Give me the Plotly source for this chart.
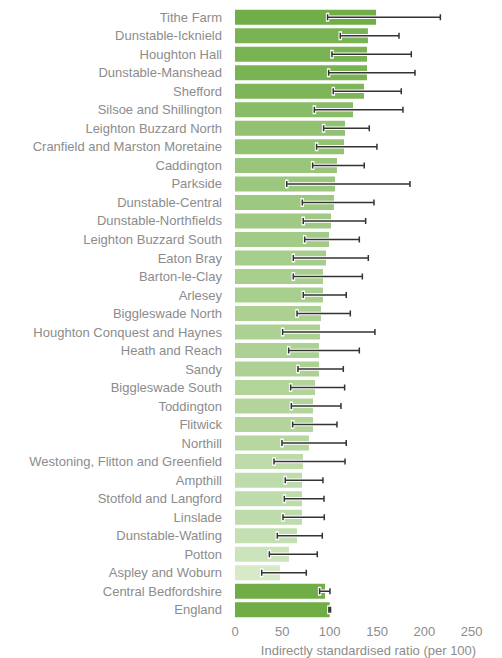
import plotly.graph_objects as go

areas = ["Tithe Farm", "Dunstable-Icknield", "Houghton Hall", "Dunstable-Manshead", "Shefford",
         "Silsoe and Shillington", "Leighton Buzzard North", "Cranfield and Marston Moretaine",
         "Caddington", "Parkside", "Dunstable-Central", "Dunstable-Northfields",
         "Leighton Buzzard South", "Eaton Bray", "Barton-le-Clay", "Arlesey", "Biggleswade North",
         "Houghton Conquest and Haynes", "Heath and Reach", "Sandy", "Biggleswade South",
         "Toddington", "Flitwick", "Northill", "Westoning, Flitton and Greenfield", "Ampthill",
         "Stotfold and Langford", "Linslade", "Dunstable-Watling", "Potton", "Aspley and Woburn"]
ratio = [149, 140.4, 139.4, 139.4, 136.2, 124.6, 116.2, 115.1, 107.7, 105.6, 104.5, 101.4,
         99.3, 96.1, 92.9, 92.9, 90.8, 89.8, 88.7, 88.7, 84.5, 82.4, 82.4, 78.1, 71.8, 70.8,
         70.8, 70.8, 65.5, 57.0, 47.5]
lower = [97.8, 111.2, 102.4, 98.9, 103.8, 83.8, 93.6, 86.2, 82.0, 54.6, 71.1, 72.1, 73.6, 61.6,
         61.6, 72.1, 65.5, 50.3, 56.7, 66.5, 58.8, 59.5, 60.9, 49.6, 41.2, 53.1, 52.1, 50.7,
         44.7, 36.3, 28.2]
upper = [216.9, 173.2, 186.2, 190.1, 175.6, 177.4, 141.8, 149.9, 136.5, 184.8, 146.8, 138.0,
         131.3, 140.8, 134.5, 117.5, 121.8, 147.8, 131.3, 114.4, 115.8, 111.9, 107.7, 117.5,
         116.2, 92.9, 94.0, 94.3, 92.2, 86.9, 75.3]

ref_areas = ["Central Bedfordshire", "England"]
ref_ratio = [95.0, 100.0]
ref_lower = [89.4, 99.2]
ref_upper = [100.3, 100.9]

x_ticks = [0, 50, 100, 150, 200, 250]
x_title = "Indirectly standardised ratio (per 100)"

all_areas = areas + ref_areas
all_ratio = ratio + ref_ratio
all_lower = lower + ref_lower
all_upper = upper + ref_upper

GREY = "#8c8c8c"
fig = go.Figure()
fig.add_trace(go.Bar(
    y=areas, x=ratio, orientation="h",
    marker=dict(color=ratio, colorscale=[[0, "#d8ebcb"], [1, "#70ad47"]],
                cmin=45, cmax=150, line=dict(width=0)),
    showlegend=False, hoverinfo="x+y"))
fig.add_trace(go.Bar(
    y=ref_areas, x=ref_ratio, orientation="h",
    marker=dict(color="#70ad47", line=dict(width=0)),
    showlegend=False))

plus = [u - r for u, r in zip(all_upper, all_ratio)]
minus = [r - l for r, l in zip(all_ratio, all_lower)]
for col, th, w in [("white", 3.5, 4.5), ("#333333", 1.5, 3)]:
    fig.add_trace(go.Scatter(
        y=all_areas, x=all_ratio, mode="markers",
        marker=dict(size=0.1, color="rgba(0,0,0,0)"),
        error_x=dict(type="data", symmetric=False, array=plus, arrayminus=minus,
                     color=col, thickness=th, width=w),
        showlegend=False, hoverinfo="skip"))

n = len(all_areas)
fig.update_layout(
    width=502, height=658,
    margin=dict(l=227, r=8, t=0, b=47, autoexpand=False),
    plot_bgcolor="white", paper_bgcolor="white",
    bargap=0.19,
    font=dict(family="Liberation Sans, Arial, sans-serif", size=13, color=GREY),
    xaxis=dict(range=[0, 282], tickvals=x_ticks, showgrid=False, zeroline=False,
               showline=False, ticks="", automargin=False, ticklabelstandoff=3,
               tickfont=dict(size=13, color=GREY),
               title=dict(text=x_title, font=dict(size=13, color=GREY), standoff=7)),
    yaxis=dict(categoryorder="array", categoryarray=all_areas, range=[n - 0.5, -0.5],
               showgrid=False, zeroline=False, showline=False, ticks="", automargin=False,
               ticklabelstandoff=12, tickfont=dict(size=13, color=GREY)),
)

fig.write_html("out.html")
